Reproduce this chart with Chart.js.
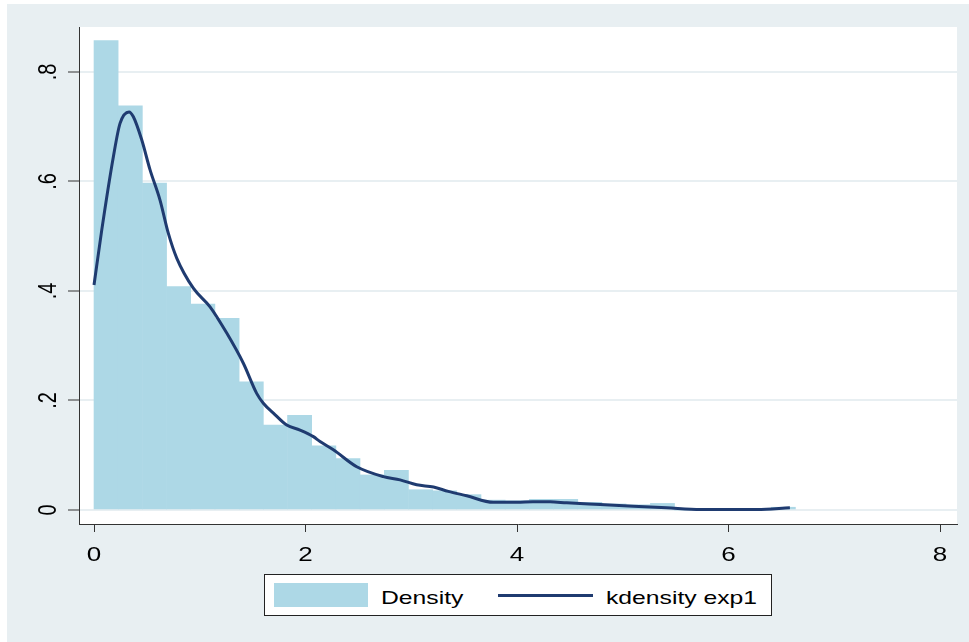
<!DOCTYPE html>
<html>
<head>
<meta charset="utf-8">
<script src="https://cdn.jsdelivr.net/npm/chart.js@4.4.1/dist/chart.umd.min.js"></script>
<style>
    body { margin: 0; background: #fff; }
    #wrap { position: relative; width: 969px; height: 642px; overflow: hidden; }
    #bg { position: absolute; left: 7px; top: 4px; width: 962px; height: 638px; background: #e8eff2; }
    #chart { position: absolute; left: 0; top: 0; }
    .legend { position: absolute; left: 264px; top: 574px; width: 506px; height: 40px; border: 1px solid #222; background: #fff; font-family: "Liberation Sans", Arial, sans-serif; font-size: 19px; color: #000; }
    .legend .swatch { position: absolute; left: 9px; top: 8px; width: 94px; height: 24px; background: #add8e6; }
    .legend .line { position: absolute; left: 233px; top: 19px; width: 95px; height: 3px; background: #1f3b70; }
    .legend .txt { position: absolute; top: 13px; line-height: 19px; white-space: nowrap; transform: scaleX(1.3); transform-origin: left center; }
</style>
</head>
<body>
<div id="wrap">
    <div id="bg"></div>
    <canvas id="chart" width="969" height="642"></canvas>
    <div class="legend">
        <div class="swatch"></div>
        <span class="txt" style="left:116px">Density</span>
        <div class="line"></div>
        <span class="txt" style="left:341px">kdensity exp1</span>
    </div>
</div>
<script>
// histogram bins (centres) and heights
const binCenters = [0.114, 0.343, 0.572, 0.800, 1.029, 1.258, 1.487, 1.715, 1.944, 2.173,
    2.401, 2.630, 2.859, 3.088, 3.316, 3.545, 3.774, 4.002, 4.231, 4.460,
    4.688, 4.917, 5.146, 5.375, 5.603, 5.832, 6.061, 6.289, 6.518];
const density = [0.857, 0.738, 0.597, 0.408, 0.376, 0.350, 0.234, 0.155, 0.173, 0.117,
    0.094, 0.064, 0.0725, 0.037, 0.035, 0.028, 0.018, 0.017, 0.0195, 0.0195,
    0.014, 0.011, 0.0095, 0.012, 0, 0, 0, 0, 0.005];

// kernel density curve
const kdeX = [0.00, 0.073, 0.183, 0.246, 0.331, 0.372, 0.451, 0.530, 0.624, 0.703,
    0.782, 0.939, 1.097, 1.255, 1.412, 1.538, 1.601, 1.696, 1.822, 1.948,
    2.074, 2.137, 2.263, 2.484, 2.736, 2.894, 3.051, 3.210, 3.350, 3.524,
    3.776, 4.000, 4.150, 4.312, 4.470, 4.785, 5.100, 5.415, 5.735, 6.000,
    6.270, 6.580];
const kdeY = [0.411, 0.511, 0.645, 0.706, 0.727, 0.718, 0.676, 0.621, 0.566, 0.505,
    0.460, 0.405, 0.371, 0.323, 0.268, 0.213, 0.195, 0.177, 0.155, 0.146,
    0.134, 0.125, 0.110, 0.079, 0.061, 0.055, 0.046, 0.042, 0.034, 0.026,
    0.014, 0.014, 0.015, 0.015, 0.013, 0.010, 0.007, 0.004, 0.001, 0.001,
    0.001, 0.004];

const xTicks = [0, 2, 4, 6, 8];
const xTickLabels = ['0', '2', '4', '6', '8'];
const yTicks = [0, 0.2, 0.4, 0.6, 0.8];
const yTickLabels = ['0', '.2', '.4', '.6', '.8'];

const fontFamily = '"Liberation Sans", Arial, sans-serif';
const stretch = 1.3;

const plotBackground = {
    id: 'plotBackground',
    beforeDraw(chart) {
        const { ctx, chartArea } = chart;
        ctx.save();
        ctx.fillStyle = '#ffffff';
        ctx.fillRect(chartArea.left, chartArea.top, chartArea.right - chartArea.left, chartArea.bottom - chartArea.top);
        ctx.restore();
    }
};

// Stata style tick labels: y labels turned, text a bit wide
const tickLabels = {
    id: 'tickLabels',
    afterDraw(chart) {
        const { ctx, scales } = chart;
        ctx.save();
        ctx.fillStyle = '#000';
        ctx.font = '20px ' + fontFamily;
        ctx.textAlign = 'center';
        ctx.textBaseline = 'alphabetic';
        yTicks.forEach((v, i) => {
            const py = scales.y.getPixelForValue(v);
            ctx.save();
            ctx.translate(47, py);
            ctx.scale(stretch, 1);
            ctx.rotate(-Math.PI / 2);
            ctx.fillText(yTickLabels[i], 0, 7.2);
            ctx.restore();
        });
        const base = scales.x.bottom - 3;
        xTicks.forEach((v, i) => {
            const px = scales.x.getPixelForValue(v);
            ctx.save();
            ctx.translate(px, base);
            ctx.scale(stretch, 1);
            ctx.fillText(xTickLabels[i], 0, 0);
            ctx.restore();
        });
        ctx.restore();
    }
};

new Chart(document.getElementById('chart'), {
    type: 'bar',
    data: {
        datasets: [
            {
                type: 'line',
                label: 'kdensity exp1',
                data: kdeX.map((x, i) => ({ x: x, y: kdeY[i] })),
                borderColor: '#1f3b70',
                borderWidth: 3,
                pointRadius: 0,
                fill: false,
                cubicInterpolationMode: 'monotone',
                order: 1
            },
            {
                type: 'bar',
                label: 'Density',
                data: binCenters.map((x, i) => ({ x: x, y: density[i] })),
                backgroundColor: '#add8e6',
                borderWidth: 0,
                barPercentage: 1.0,
                categoryPercentage: 1.0,
                order: 2
            }
        ]
    },
    options: {
        responsive: false,
        animation: false,
        devicePixelRatio: 1,
        layout: { padding: { left: 0, top: 27, right: 12, bottom: 78 } },
        plugins: { legend: { display: false }, tooltip: { enabled: false } },
        scales: {
            x: {
                type: 'linear',
                min: -0.142,
                max: 8.16,
                offset: false,
                afterBuildTicks: (scale) => { scale.ticks = xTicks.map(v => ({ value: v })); },
                afterFit: (scale) => { scale.height = 40; },
                ticks: { display: false },
                grid: { drawOnChartArea: false, drawTicks: true, tickLength: 8, tickColor: '#333', offset: false },
                border: { display: true, color: '#333', width: 1 }
            },
            y: {
                min: -0.0256,
                max: 0.882,
                afterBuildTicks: (scale) => { scale.ticks = yTicks.map(v => ({ value: v })); },
                afterFit: (scale) => { scale.width = 79; },
                ticks: { display: false },
                grid: { color: '#e8eff2', lineWidth: 2, drawTicks: true, tickLength: 11, tickColor: '#333', tickWidth: 1 },
                border: { display: true, color: '#333', width: 1 }
            }
        }
    },
    plugins: [plotBackground, tickLabels]
});
</script>
</body>
</html>
